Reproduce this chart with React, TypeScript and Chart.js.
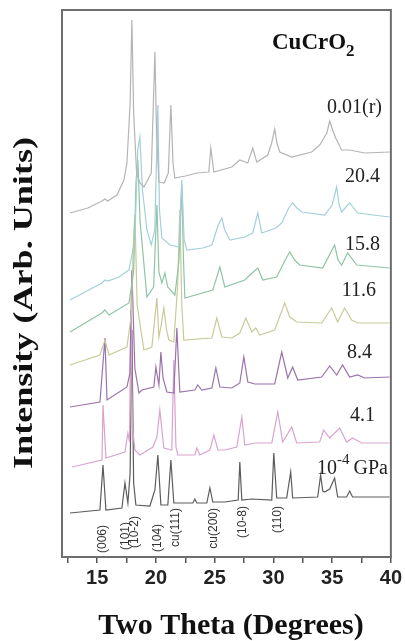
import { useEffect, useRef } from "react";
import { Chart, registerables } from "chart.js";

Chart.register(...registerables);

// ---- axis ----
const xMin = 12;
const xMax = 40;
const xTickValues = [12.5, 15, 17.5, 20, 22.5, 25, 27.5, 30, 32.5, 35, 37.5, 40];

// ---- traces: [two theta (deg), intensity above own baseline (arb.)] ----
const trace_0p01r: [number, number][] = [
  [12.68, 0], [14.2, 5], [15.4, 12], [15.66, 14], [15.9, 12], [16.68, 18], [17.27, 33], [17.53, 50],
  [17.8, 110], [17.95, 193], [18.1, 100], [18.35, 40], [18.63, 30], [18.97, 26], [19.6, 40], [19.91, 161],
  [20.05, 80], [20.25, 31], [20.7, 30], [21.05, 40], [21.27, 108], [21.45, 50], [21.61, 35], [22.5, 37],
  [23.5, 40], [24.5, 41], [24.67, 65], [24.93, 41], [26.46, 46], [27.14, 53], [27.82, 50], [28.24, 65],
  [28.58, 51], [29.52, 58], [29.85, 70], [30.11, 84], [30.3, 70], [30.54, 61], [31.56, 56], [33.26, 61],
  [33.94, 68], [34.55, 80], [34.79, 92], [35.04, 83], [35.3, 75], [35.81, 63], [36.49, 63], [37.77, 60],
  [39.9, 61],
];
const trace_20p4: [number, number][] = [
  [12.68, 0], [15.4, 17], [15.66, 20], [15.9, 19], [16.85, 23], [17.7, 30], [18.2, 60], [18.45, 150],
  [18.63, 163], [18.85, 110], [19.23, 70], [19.6, 55], [19.9, 70], [20.16, 195], [20.3, 90], [20.5, 62],
  [21.2, 55], [21.95, 53], [22.2, 120], [22.4, 60], [22.63, 50], [24.0, 52], [24.76, 55], [25.3, 75],
  [25.61, 82], [25.85, 70], [26.3, 60], [27.56, 63], [28.24, 67], [28.67, 87], [29.01, 67], [30.2, 72],
  [30.71, 77], [31.3, 92], [31.64, 97], [32.0, 92], [32.41, 88], [34.36, 85], [35.0, 95], [35.38, 113],
  [35.6, 95], [35.81, 88], [36.49, 97], [37.17, 87], [39.89, 83],
];
const trace_15p8: [number, number][] = [
  [12.68, 0], [15.4, 19], [15.66, 22], [16.0, 17], [17.7, 29], [18.1, 60], [18.3, 150], [18.46, 172],
  [18.65, 110], [19.23, 35], [19.8, 45], [20.08, 127], [20.25, 60], [20.5, 49], [20.76, 59], [21.0, 45],
  [21.61, 37], [21.95, 70], [22.2, 147], [22.35, 70], [22.46, 34], [24.84, 42], [25.44, 65], [25.86, 45],
  [27.56, 52], [27.82, 55], [28.67, 64], [29.09, 52], [30.28, 55], [31.0, 72], [31.39, 80], [31.8, 72],
  [32.24, 67], [34.19, 64], [35.21, 87], [35.5, 72], [35.81, 67], [36.32, 79], [37.09, 67], [39.89, 64],
];
const trace_11p6: [number, number][] = [
  [12.68, 0], [15.23, 10], [15.66, 25], [16.0, 10], [17.53, 18], [17.9, 50], [18.1, 130], [18.21, 150],
  [18.4, 60], [18.97, 15], [19.65, 18], [20.08, 67], [20.25, 28], [20.45, 40], [20.67, 57], [20.9, 35],
  [21.1, 25], [21.52, 23], [21.85, 80], [22.03, 155], [22.2, 60], [22.37, 25], [24.76, 27], [25.18, 47],
  [25.61, 28], [26.46, 27], [27.14, 32], [27.65, 47], [28.16, 33], [28.5, 37], [28.84, 30], [30.11, 35],
  [30.96, 62], [31.39, 48], [31.98, 43], [34.11, 42], [34.96, 57], [35.47, 43], [36.06, 57], [36.66, 45],
  [37.17, 42], [39.89, 42],
];
const trace_8p4: [number, number][] = [
  [12.68, 1], [15.23, 6], [15.66, 70], [15.83, 8], [17.53, 21], [17.78, 35], [17.95, 138], [18.2, 40],
  [18.55, 15], [18.8, 18], [19.82, 21], [19.99, 41], [20.25, 23], [20.42, 56], [20.6, 30], [20.93, 16],
  [21.52, 15], [21.78, 80], [22.03, 16], [23.31, 18], [23.56, 23], [23.9, 18], [24.76, 20], [25.1, 40],
  [25.44, 21], [26.46, 20], [27.14, 25], [27.48, 51], [27.82, 26], [28.41, 24], [30.11, 24], [30.71, 56],
  [31.22, 30], [31.64, 41], [32.07, 28], [34.11, 31], [34.79, 42], [35.38, 33], [35.89, 43], [36.49, 31],
  [37.17, 33], [37.77, 30], [39.89, 31],
];
const trace_4p1: [number, number][] = [
  [12.85, 0], [15.4, 7], [15.49, 62], [15.74, 9], [17.36, 15], [17.61, 34], [17.75, 25], [17.87, 157],
  [18.0, 40], [18.21, 17], [18.63, 12], [19.74, 20], [20.08, 30], [20.33, 57], [20.67, 19], [21.35, 17],
  [21.52, 107], [21.7, 20], [21.86, 12], [23.31, 12], [23.48, 19], [23.73, 12], [24.59, 17], [24.93, 32],
  [25.27, 17], [25.86, 17], [26.88, 20], [27.31, 50], [27.56, 22], [28.41, 24], [29.86, 24], [30.37, 55],
  [30.79, 25], [31.56, 40], [31.98, 24], [33.94, 25], [34.28, 37], [34.79, 29], [35.64, 39], [36.23, 25],
  [36.74, 29], [37.51, 24], [39.89, 24],
];
const trace_1em4: [number, number][] = [
  [12.68, 0], [15.23, 3], [15.49, 48], [15.74, 3], [17.1, 5], [17.36, 30], [17.61, 10], [17.8, 40],
  [17.95, 183], [18.1, 30], [18.29, 8], [19.48, 7], [19.91, 23], [20.16, 58], [20.42, 8], [21.01, 8],
  [21.27, 53], [21.52, 10], [23.14, 10], [23.31, 14], [23.48, 10], [24.33, 10], [24.59, 25], [24.84, 11],
  [25.86, 11], [27.0, 13], [27.14, 51], [27.31, 13], [28.16, 14], [29.86, 13], [30.03, 60], [30.28, 15],
  [31.13, 15], [31.47, 41], [31.64, 15], [33.77, 16], [34.02, 38], [34.2, 22], [34.36, 21], [34.79, 24],
  [35.21, 35], [35.47, 16], [36.23, 16], [36.49, 22], [36.74, 16], [38.36, 16], [39.89, 16],
];

const traces = [trace_0p01r, trace_20p4, trace_15p8, trace_11p6, trace_8p4, trace_4p1, trace_1em4];
const traceNames = ["0.01(r)", "20.4", "15.8", "11.6", "8.4", "4.1", "10^-4 GPa"];
const traceOffsets = [344, 257, 225, 192, 149, 90, 44];
const yMax = 547;

const peakLabels = ["(006)", "(101)", "(10-2)", "(104)", "cu(111)", "cu(200)", "(10-8)", "(110)"];
const peakLabelTheta = [15.49, 17.44, 18.21, 20.16, 21.69, 24.93, 27.39, 30.37];

const title = "CuCrO";
const titleSub = "2";
const xTitle = "Two Theta (Degrees)";
const yTitle = "Intensity (Arb. Units)";

// ---- styles / layout ----
const traceColors = ["#b4b4b4", "#a3d0d8", "#8fc4a4", "#c8ca98", "#9a72ac", "#d9a3cf", "#5c5c5c"];
const labelLayout = [
  { right: 382, cy: 108 },
  { right: 380, cy: 177 },
  { right: 380, cy: 245 },
  { right: 376, cy: 291 },
  { right: 372, cy: 353 },
  { right: 375, cy: 416 },
  { right: 388, cy: 469 },
];
const peakLabelTop = [525, 522, 516, 524, 508, 508, 506, 506];
const SERIF = "'Liberation Serif', 'Times New Roman', serif";
const SANS = "'Liberation Sans', Arial, sans-serif";

const annotations = {
  id: "annotations",
  afterDraw(chart: any) {
    const { ctx, chartArea, scales } = chart;
    ctx.save();
    // frame
    ctx.strokeStyle = "#6e6e6e";
    ctx.lineWidth = 2;
    ctx.strokeRect(chartArea.left, chartArea.top, chartArea.right - chartArea.left, chartArea.bottom - chartArea.top);

    // title
    ctx.fillStyle = "#111";
    ctx.textBaseline = "alphabetic";
    ctx.textAlign = "left";
    ctx.font = `bold 23px ${SERIF}`;
    ctx.fillText(title, 272, 49);
    const tw = ctx.measureText(title).width;
    ctx.font = `bold 17px ${SERIF}`;
    ctx.fillText(titleSub, 272 + tw, 56);

    // trace labels
    ctx.fillStyle = "#222";
    ctx.textBaseline = "middle";
    for (let i = 0; i < traceNames.length; i++) {
      const name = traceNames[i];
      const { right, cy } = labelLayout[i];
      if (name.startsWith("10^")) {
        const [base, rest] = name.split("^");
        const [sup, unit] = rest.split(" ");
        ctx.font = `20px ${SERIF}`;
        ctx.textAlign = "right";
        ctx.fillText(unit, right, cy);
        const uw = ctx.measureText(unit).width;
        ctx.font = `15px ${SERIF}`;
        const sw = ctx.measureText(sup).width;
        ctx.fillText(sup, right - uw - 4, cy - 9);
        ctx.font = `20px ${SERIF}`;
        ctx.fillText(base, right - uw - 4 - sw, cy);
      } else {
        ctx.font = `20px ${SERIF}`;
        ctx.textAlign = "right";
        ctx.fillText(name, right, cy);
      }
    }

    // peak labels (rotated)
    ctx.font = `12px ${SANS}`;
    ctx.fillStyle = "#333";
    ctx.textAlign = "right";
    ctx.textBaseline = "middle";
    for (let i = 0; i < peakLabels.length; i++) {
      const x = scales.x.getPixelForValue(peakLabelTheta[i]);
      ctx.save();
      ctx.translate(x, peakLabelTop[i]);
      ctx.rotate(-Math.PI / 2);
      ctx.fillText(peakLabels[i], 0, 0);
      ctx.restore();
    }

    // x title
    ctx.fillStyle = "#111";
    ctx.font = `bold 30px ${SERIF}`;
    ctx.textAlign = "center";
    ctx.textBaseline = "alphabetic";
    ctx.fillText(xTitle, 231, 634);

    // y title (stretched along its length)
    ctx.save();
    ctx.translate(25, 303);
    ctx.rotate(-Math.PI / 2);
    ctx.font = `bold 27px ${SERIF}`;
    const w = ctx.measureText(yTitle).width;
    ctx.scale(332 / w, 1);
    ctx.textAlign = "center";
    ctx.textBaseline = "middle";
    ctx.fillText(yTitle, 0, 0);
    ctx.restore();

    ctx.restore();
  },
};

export default function App() {
  const ref = useRef<HTMLCanvasElement | null>(null);
  useEffect(() => {
    if (!ref.current) return;
    const chart = new Chart(ref.current, {
      type: "line",
      data: {
        datasets: traces.map((tr, i) => ({
          label: traceNames[i],
          data: tr.map(([t, v]) => ({ x: t, y: v + traceOffsets[i] })),
          borderColor: traceColors[i],
          borderWidth: 1.2,
          pointRadius: 0,
          tension: 0,
          fill: false,
        })),
      },
      options: {
        animation: false,
        responsive: false,
        devicePixelRatio: 1,
        layout: { padding: { left: 62, right: 14, top: 10, bottom: 0 } },
        plugins: { legend: { display: false }, tooltip: { enabled: false } },
        scales: {
          x: {
            type: "linear",
            min: xMin,
            max: xMax,
            afterBuildTicks: (s: any) => {
              s.ticks = xTickValues.map((v) => ({ value: v }));
            },
            afterFit: (s: any) => {
              s.height = 84;
            },
            grid: { drawOnChartArea: false, drawTicks: true, tickLength: 6, color: "#555", lineWidth: 1.5 },
            border: { display: true, color: "#6e6e6e", width: 2 },
            ticks: {
              padding: 3,
              color: "#222",
              autoSkip: false,
              maxRotation: 0,
              font: { family: SANS, size: 20, weight: "bold" },
              callback: (v: any) => (Number(v) % 5 === 0 ? String(v) : ""),
            },
          },
          y: { display: false, min: 0, max: yMax },
        },
      },
      plugins: [annotations],
    } as any);
    return () => chart.destroy();
  }, []);
  return (
    <div style={{ position: "fixed", left: 0, top: 0, width: 405, height: 641, background: "#fff" }}>
      <canvas ref={ref} width={405} height={641} />
    </div>
  );
}
